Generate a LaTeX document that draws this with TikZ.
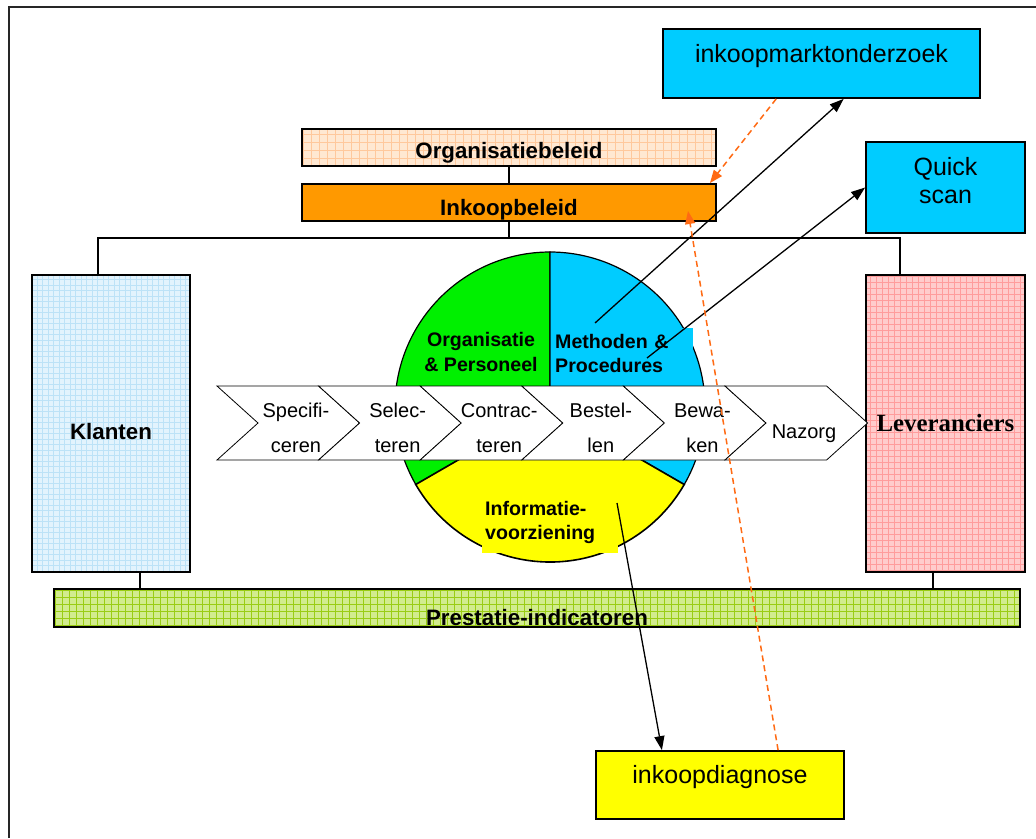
\documentclass[tikz,border=0pt]{standalone}
\usepackage{fontspec}
\setmainfont{Liberation Sans}
\newfontfamily\timesfont{Liberation Serif}
\usepackage{tikz}
\usetikzlibrary{arrows.meta,calc}
\definecolor{ikOrange}{HTML}{FF9900}
\definecolor{ikPeach}{HTML}{FFE8D2}
\definecolor{ikPeachGrid}{HTML}{FFC89C}
\definecolor{ikSky}{HTML}{E2F3FD}
\definecolor{ikSkyGrid}{HTML}{BCE2F7}
\definecolor{ikRose}{HTML}{FFCCCC}
\definecolor{ikRoseGrid}{HTML}{FF9C9C}
\definecolor{ikLime}{HTML}{D2EC8E}
\definecolor{ikLimeGrid}{HTML}{9ACD14}
\definecolor{ikGreen}{HTML}{00F000}
\definecolor{ikCyan}{HTML}{00CCFF}
\definecolor{ikYellow}{HTML}{FFFF00}
\definecolor{ikDash}{HTML}{FF6A13}

\begin{document}
\begin{tikzpicture}[x=1pt,y=-1pt,
  box/.style={draw=black,line width=1.8pt,inner sep=0pt},
  gridbox/.style n args={3}{box,fill=#1,path picture={\draw[#2,line width=.5pt,step=#3] (path picture bounding box.south west) grid (path picture bounding box.north east);}},
  lbl/.style={font=\fontsize{22.3}{26}\selectfont\bfseries},
  tool/.style={box,fill=#1,font=\fontsize{25}{28}\selectfont,align=center},
  part/.style={font=\fontsize{19.6}{24.5}\selectfont\bfseries},
  chev/.style={draw=black,fill=white,line width=.8pt},
  chevtext/.style={font=\fontsize{20}{35}\selectfont,align=center},
  link/.style={line width=1.5pt},
  toarrow/.style={line width=1.3pt,-{Triangle[length=14pt,width=10pt]}},
  dasharrow/.style={ikDash,line width=1.5pt,dash pattern=on 6pt off 4pt,-{Triangle[length=13pt,width=10pt]}}]
\useasboundingbox (0,0) rectangle (1036,838);
\draw[line width=2.5pt,black!85] (9,838) -- (9,7) -- (1036,7);

% policy boxes
\node[gridbox={ikPeach}{ikPeachGrid}{8pt},lbl,minimum width=414pt,minimum height=37pt,text height=22pt,text depth=0pt] (ob) at (509,147.5) {Organisatiebeleid};
\node[box,fill=ikOrange,lbl,minimum width=414pt,minimum height=37pt,text height=25pt,text depth=0pt] (ib) at (509,202.5) {Inkoopbeleid};

% sides and bottom bar
\node[gridbox={ikSky}{ikSkyGrid}{5.5pt},lbl,minimum width=158pt,minimum height=297pt,text height=31pt,text depth=0pt] (kl) at (111,423.5) {Klanten};
\node[gridbox={ikRose}{ikRoseGrid}{6pt},font=\fontsize{24.8}{28}\selectfont\timesfont\bfseries,minimum width=159pt,minimum height=297pt] (lev) at (945.5,423.5) {Leveranciers};
\node[gridbox={ikLime}{ikLimeGrid}{7pt},lbl,minimum width=966pt,minimum height=38pt,text height=34pt,text depth=0pt] (pi) at (537,608) {Prestatie-indicatoren};

% instruments
\node[tool=ikCyan,minimum width=317pt,minimum height=69pt,text height=8pt,text depth=11pt] (imo) at (821.5,63.5) {inkoopmarktonderzoek};
\node[tool=ikCyan,minimum width=159pt,minimum height=91pt,text height=46pt,text depth=15pt] (qs) at (945.5,187.5) {Quick\\scan};
\node[tool=ikYellow,minimum width=248pt,minimum height=68pt,text height=8pt,text depth=12pt] (diag) at (720,785) {inkoopdiagnose};

% pie
\coordinate (pc) at (550,407);
\filldraw[fill=ikGreen,line width=1.2pt] (pc) -- +(-90:155) arc[start angle=-90,end angle=-210,radius=155] -- cycle;
\filldraw[fill=ikCyan,line width=1.2pt] (pc) -- +(30:155) arc[start angle=30,end angle=-90,radius=155] -- cycle;
\filldraw[fill=ikYellow,line width=1.6pt] (pc) -- +(-210:155) arc[start angle=-210,end angle=-330,radius=155] -- cycle;
\node[part,align=center] (op) at (481,352) {Organisatie\\\& Personeel};
\node[part,fill=ikCyan,anchor=north west,text width=135pt,inner xsep=3pt,inner ysep=6pt,align=left] (mp) at (552,328) {Methoden \&\\Procedures};
\node[part,fill=ikYellow,anchor=south west,text width=130pt,inner xsep=3pt,inner ysep=9pt,align=left] (iv) at (482,553) {Informatie-\\voorziening};

% process chevrons
\foreach \lbl/\ty [count=\i from 0] in {{Specifi-\\ceren}/428,{Selec-\\teren}/428,{Contrac-\\teren}/428,{Bestel-\\len}/428,{Bewa-\\ken}/428,Nazorg/434}{
  \draw[chev] ({217+\i*101.6},386) -- ++(101.6,0) -- ++(41,37) -- ++(-41,37) -- ++(-101.6,0) -- ++(41,-37) -- cycle;
  \node[chevtext] (ch\i) at ({296+\i*101.6},\ty) {\lbl};
}

% tree lines
\coordinate (bus) at (509,238);
\draw[link] (ob.south) -- (ib.north);
\draw[link] (ib.south) -- (bus);
\draw[link] ($(kl.north west)+(67,0)$) |- (bus) -| ($(lev.north west)+(35,0)$);
\draw[link] ($(kl.south west)+(109,0)$) coordinate (kb) -- (kb |- pi.north);
\draw[link] ($(lev.south west)+(68,0)$) coordinate (lb) -- (lb |- pi.north);

% arrows
\coordinate (mp1) at (595,323);
\coordinate (mp2) at (647,358);
\coordinate (ivp) at (617,503);
\coordinate (ibin) at (688,211);
\draw[toarrow] (mp1) -- (imo.-58);
\draw[toarrow] (mp2) -- (qs.west);
\draw[toarrow] (ivp) -- (diag.149);
\draw[dasharrow] (imo.-142) -- ($(ib.north east)+(-7,0)$);
\draw[dasharrow] (diag.31) -- (ibin);
\end{tikzpicture}
\end{document}
